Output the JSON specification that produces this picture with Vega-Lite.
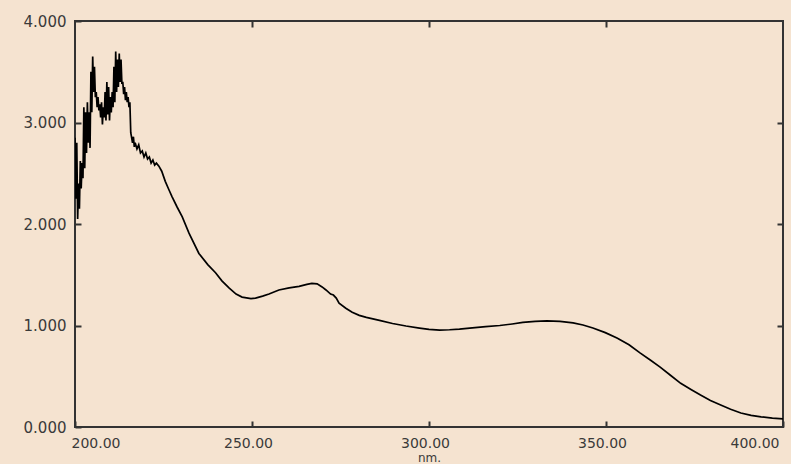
{
  "$schema": "https://vega.github.io/schema/vega-lite/v6.json",
  "width": 708,
  "height": 406,
  "autosize": {"type": "none"},
  "padding": {"left": 75, "top": 21, "right": 8, "bottom": 37},
  "background": "#f5e3d0",
  "config": {
    "view": {"stroke": "#333333", "strokeWidth": 2},
    "axis": {
      "domain": false,
      "grid": false,
      "tickColor": "#333333",
      "tickWidth": 2,
      "labelFont": "DejaVu Sans",
      "labelFontSize": 15,
      "labelColor": "#3a3a3a",
      "titleFont": "DejaVu Sans",
      "titleFontSize": 12,
      "titleFontWeight": "normal",
      "titleColor": "#3a3a3a"
    }
  },
  "data": {
    "values": [
      {"nm": 200.0, "abs": 2.85}, {"nm": 200.25, "abs": 2.25}, {"nm": 200.5, "abs": 2.8}, {"nm": 200.75, "abs": 2.05},
      {"nm": 201.0, "abs": 2.4}, {"nm": 201.25, "abs": 2.15}, {"nm": 201.5, "abs": 2.62}, {"nm": 201.75, "abs": 2.35},
      {"nm": 202.0, "abs": 2.6}, {"nm": 202.25, "abs": 2.45}, {"nm": 202.5, "abs": 3.15}, {"nm": 202.75, "abs": 2.55},
      {"nm": 203.0, "abs": 3.1}, {"nm": 203.25, "abs": 2.7}, {"nm": 203.5, "abs": 3.2}, {"nm": 203.75, "abs": 2.8},
      {"nm": 204.0, "abs": 3.1}, {"nm": 204.25, "abs": 2.75}, {"nm": 204.5, "abs": 3.5}, {"nm": 204.75, "abs": 3.1},
      {"nm": 205.0, "abs": 3.65}, {"nm": 205.25, "abs": 3.3}, {"nm": 205.5, "abs": 3.55}, {"nm": 205.75, "abs": 3.25},
      {"nm": 206.0, "abs": 3.3}, {"nm": 206.25, "abs": 3.15}, {"nm": 206.5, "abs": 3.25}, {"nm": 206.75, "abs": 3.12},
      {"nm": 207.0, "abs": 3.18}, {"nm": 207.25, "abs": 3.05}, {"nm": 207.5, "abs": 3.2}, {"nm": 207.75, "abs": 2.98},
      {"nm": 208.0, "abs": 3.15}, {"nm": 208.25, "abs": 3.05}, {"nm": 208.5, "abs": 3.3}, {"nm": 208.75, "abs": 3.02},
      {"nm": 209.0, "abs": 3.4}, {"nm": 209.25, "abs": 3.08}, {"nm": 209.5, "abs": 3.35}, {"nm": 209.75, "abs": 3.02},
      {"nm": 210.0, "abs": 3.25}, {"nm": 210.25, "abs": 3.1}, {"nm": 210.5, "abs": 3.3}, {"nm": 210.75, "abs": 3.15},
      {"nm": 211.0, "abs": 3.55}, {"nm": 211.25, "abs": 3.2}, {"nm": 211.5, "abs": 3.7}, {"nm": 211.75, "abs": 3.3},
      {"nm": 212.0, "abs": 3.62}, {"nm": 212.25, "abs": 3.35}, {"nm": 212.5, "abs": 3.68}, {"nm": 212.75, "abs": 3.4},
      {"nm": 213.0, "abs": 3.62}, {"nm": 213.25, "abs": 3.38}, {"nm": 213.5, "abs": 3.4}, {"nm": 213.75, "abs": 3.28},
      {"nm": 214.0, "abs": 3.35}, {"nm": 214.25, "abs": 3.22}, {"nm": 214.5, "abs": 3.3}, {"nm": 214.75, "abs": 3.2},
      {"nm": 215.0, "abs": 3.25}, {"nm": 215.25, "abs": 3.15}, {"nm": 215.5, "abs": 3.2}, {"nm": 215.75, "abs": 2.9},
      {"nm": 216.0, "abs": 2.85}, {"nm": 216.25, "abs": 2.8}, {"nm": 216.5, "abs": 2.86}, {"nm": 216.75, "abs": 2.76},
      {"nm": 217.0, "abs": 2.8}, {"nm": 217.5, "abs": 2.74}, {"nm": 218.0, "abs": 2.78}, {"nm": 218.5, "abs": 2.7},
      {"nm": 219.0, "abs": 2.72}, {"nm": 219.5, "abs": 2.66}, {"nm": 220.0, "abs": 2.7}, {"nm": 220.5, "abs": 2.64},
      {"nm": 221.0, "abs": 2.66}, {"nm": 221.5, "abs": 2.6}, {"nm": 222.0, "abs": 2.63}, {"nm": 222.5, "abs": 2.58},
      {"nm": 223.0, "abs": 2.6}, {"nm": 223.7, "abs": 2.57}, {"nm": 224.5, "abs": 2.52}, {"nm": 225.5, "abs": 2.42},
      {"nm": 226.5, "abs": 2.34}, {"nm": 227.4, "abs": 2.27}, {"nm": 228.8, "abs": 2.17}, {"nm": 230.3, "abs": 2.07},
      {"nm": 232.2, "abs": 1.91}, {"nm": 235.0, "abs": 1.71}, {"nm": 237.5, "abs": 1.6}, {"nm": 239.7, "abs": 1.52},
      {"nm": 241.5, "abs": 1.44}, {"nm": 243.5, "abs": 1.37}, {"nm": 245.5, "abs": 1.31}, {"nm": 247.2, "abs": 1.28},
      {"nm": 249.7, "abs": 1.265}, {"nm": 251.0, "abs": 1.27}, {"nm": 253.0, "abs": 1.29}, {"nm": 254.8, "abs": 1.31},
      {"nm": 257.6, "abs": 1.35}, {"nm": 260.5, "abs": 1.37}, {"nm": 263.3, "abs": 1.385}, {"nm": 265.5, "abs": 1.405},
      {"nm": 266.9, "abs": 1.415}, {"nm": 268.4, "abs": 1.41}, {"nm": 269.8, "abs": 1.38}, {"nm": 270.9, "abs": 1.35},
      {"nm": 272.2, "abs": 1.31}, {"nm": 273.0, "abs": 1.3}, {"nm": 273.8, "abs": 1.27}, {"nm": 274.6, "abs": 1.22},
      {"nm": 276.5, "abs": 1.17}, {"nm": 278.3, "abs": 1.13}, {"nm": 280.3, "abs": 1.1}, {"nm": 282.3, "abs": 1.08},
      {"nm": 286.0, "abs": 1.05}, {"nm": 289.7, "abs": 1.02}, {"nm": 293.5, "abs": 0.995}, {"nm": 297.3, "abs": 0.975},
      {"nm": 300.0, "abs": 0.962}, {"nm": 303.0, "abs": 0.955}, {"nm": 305.8, "abs": 0.958}, {"nm": 308.6, "abs": 0.965},
      {"nm": 311.5, "abs": 0.975}, {"nm": 316.0, "abs": 0.988}, {"nm": 320.0, "abs": 1.0}, {"nm": 323.5, "abs": 1.015},
      {"nm": 326.5, "abs": 1.03}, {"nm": 330.0, "abs": 1.04}, {"nm": 333.3, "abs": 1.045}, {"nm": 337.0, "abs": 1.04},
      {"nm": 340.7, "abs": 1.025}, {"nm": 343.5, "abs": 1.005}, {"nm": 346.3, "abs": 0.975}, {"nm": 349.8, "abs": 0.93},
      {"nm": 353.1, "abs": 0.877}, {"nm": 356.5, "abs": 0.81}, {"nm": 359.6, "abs": 0.73}, {"nm": 362.5, "abs": 0.66},
      {"nm": 365.3, "abs": 0.59}, {"nm": 368.2, "abs": 0.51}, {"nm": 371.1, "abs": 0.43}, {"nm": 374.0, "abs": 0.37},
      {"nm": 376.7, "abs": 0.315}, {"nm": 379.5, "abs": 0.262}, {"nm": 382.4, "abs": 0.217}, {"nm": 385.2, "abs": 0.175},
      {"nm": 388.1, "abs": 0.138}, {"nm": 391.0, "abs": 0.115}, {"nm": 393.8, "abs": 0.1}, {"nm": 397.0, "abs": 0.088},
      {"nm": 400.0, "abs": 0.08}
    ]
  },
  "layer": [
    {
      "mark": {"type": "line", "color": "#000000", "strokeWidth": 1.7, "clip": true},
      "encoding": {
        "x": {
          "field": "nm", "type": "quantitative",
          "scale": {"domain": [200, 400], "nice": false, "zero": false},
          "axis": {
            "orient": "bottom", "title": "nm.", "values": [200, 250, 300, 350, 400],
            "format": ".2f", "tickSize": -6, "labelPadding": 15, "labelOffset": -4,
            "labelFontSize": 14, "titlePadding": 2
          }
        },
        "y": {
          "field": "abs", "type": "quantitative",
          "scale": {"domain": [0, 4], "nice": false},
          "axis": {
            "orient": "left", "title": null, "values": [0, 1, 2, 3, 4],
            "format": ".3f", "tickSize": -6, "labelPadding": 15
          }
        }
      }
    },
    {
      "mark": {"type": "line", "opacity": 0},
      "encoding": {
        "x": {
          "field": "nm", "type": "quantitative",
          "axis": {"orient": "top", "title": null, "labels": false, "values": [250, 300, 350], "tickSize": -6}
        },
        "y": {
          "field": "abs", "type": "quantitative",
          "axis": {"orient": "right", "title": null, "labels": false, "values": [1, 2, 3], "tickSize": -6}
        }
      }
    }
  ],
  "resolve": {"axis": {"x": "independent", "y": "independent"}}
}
